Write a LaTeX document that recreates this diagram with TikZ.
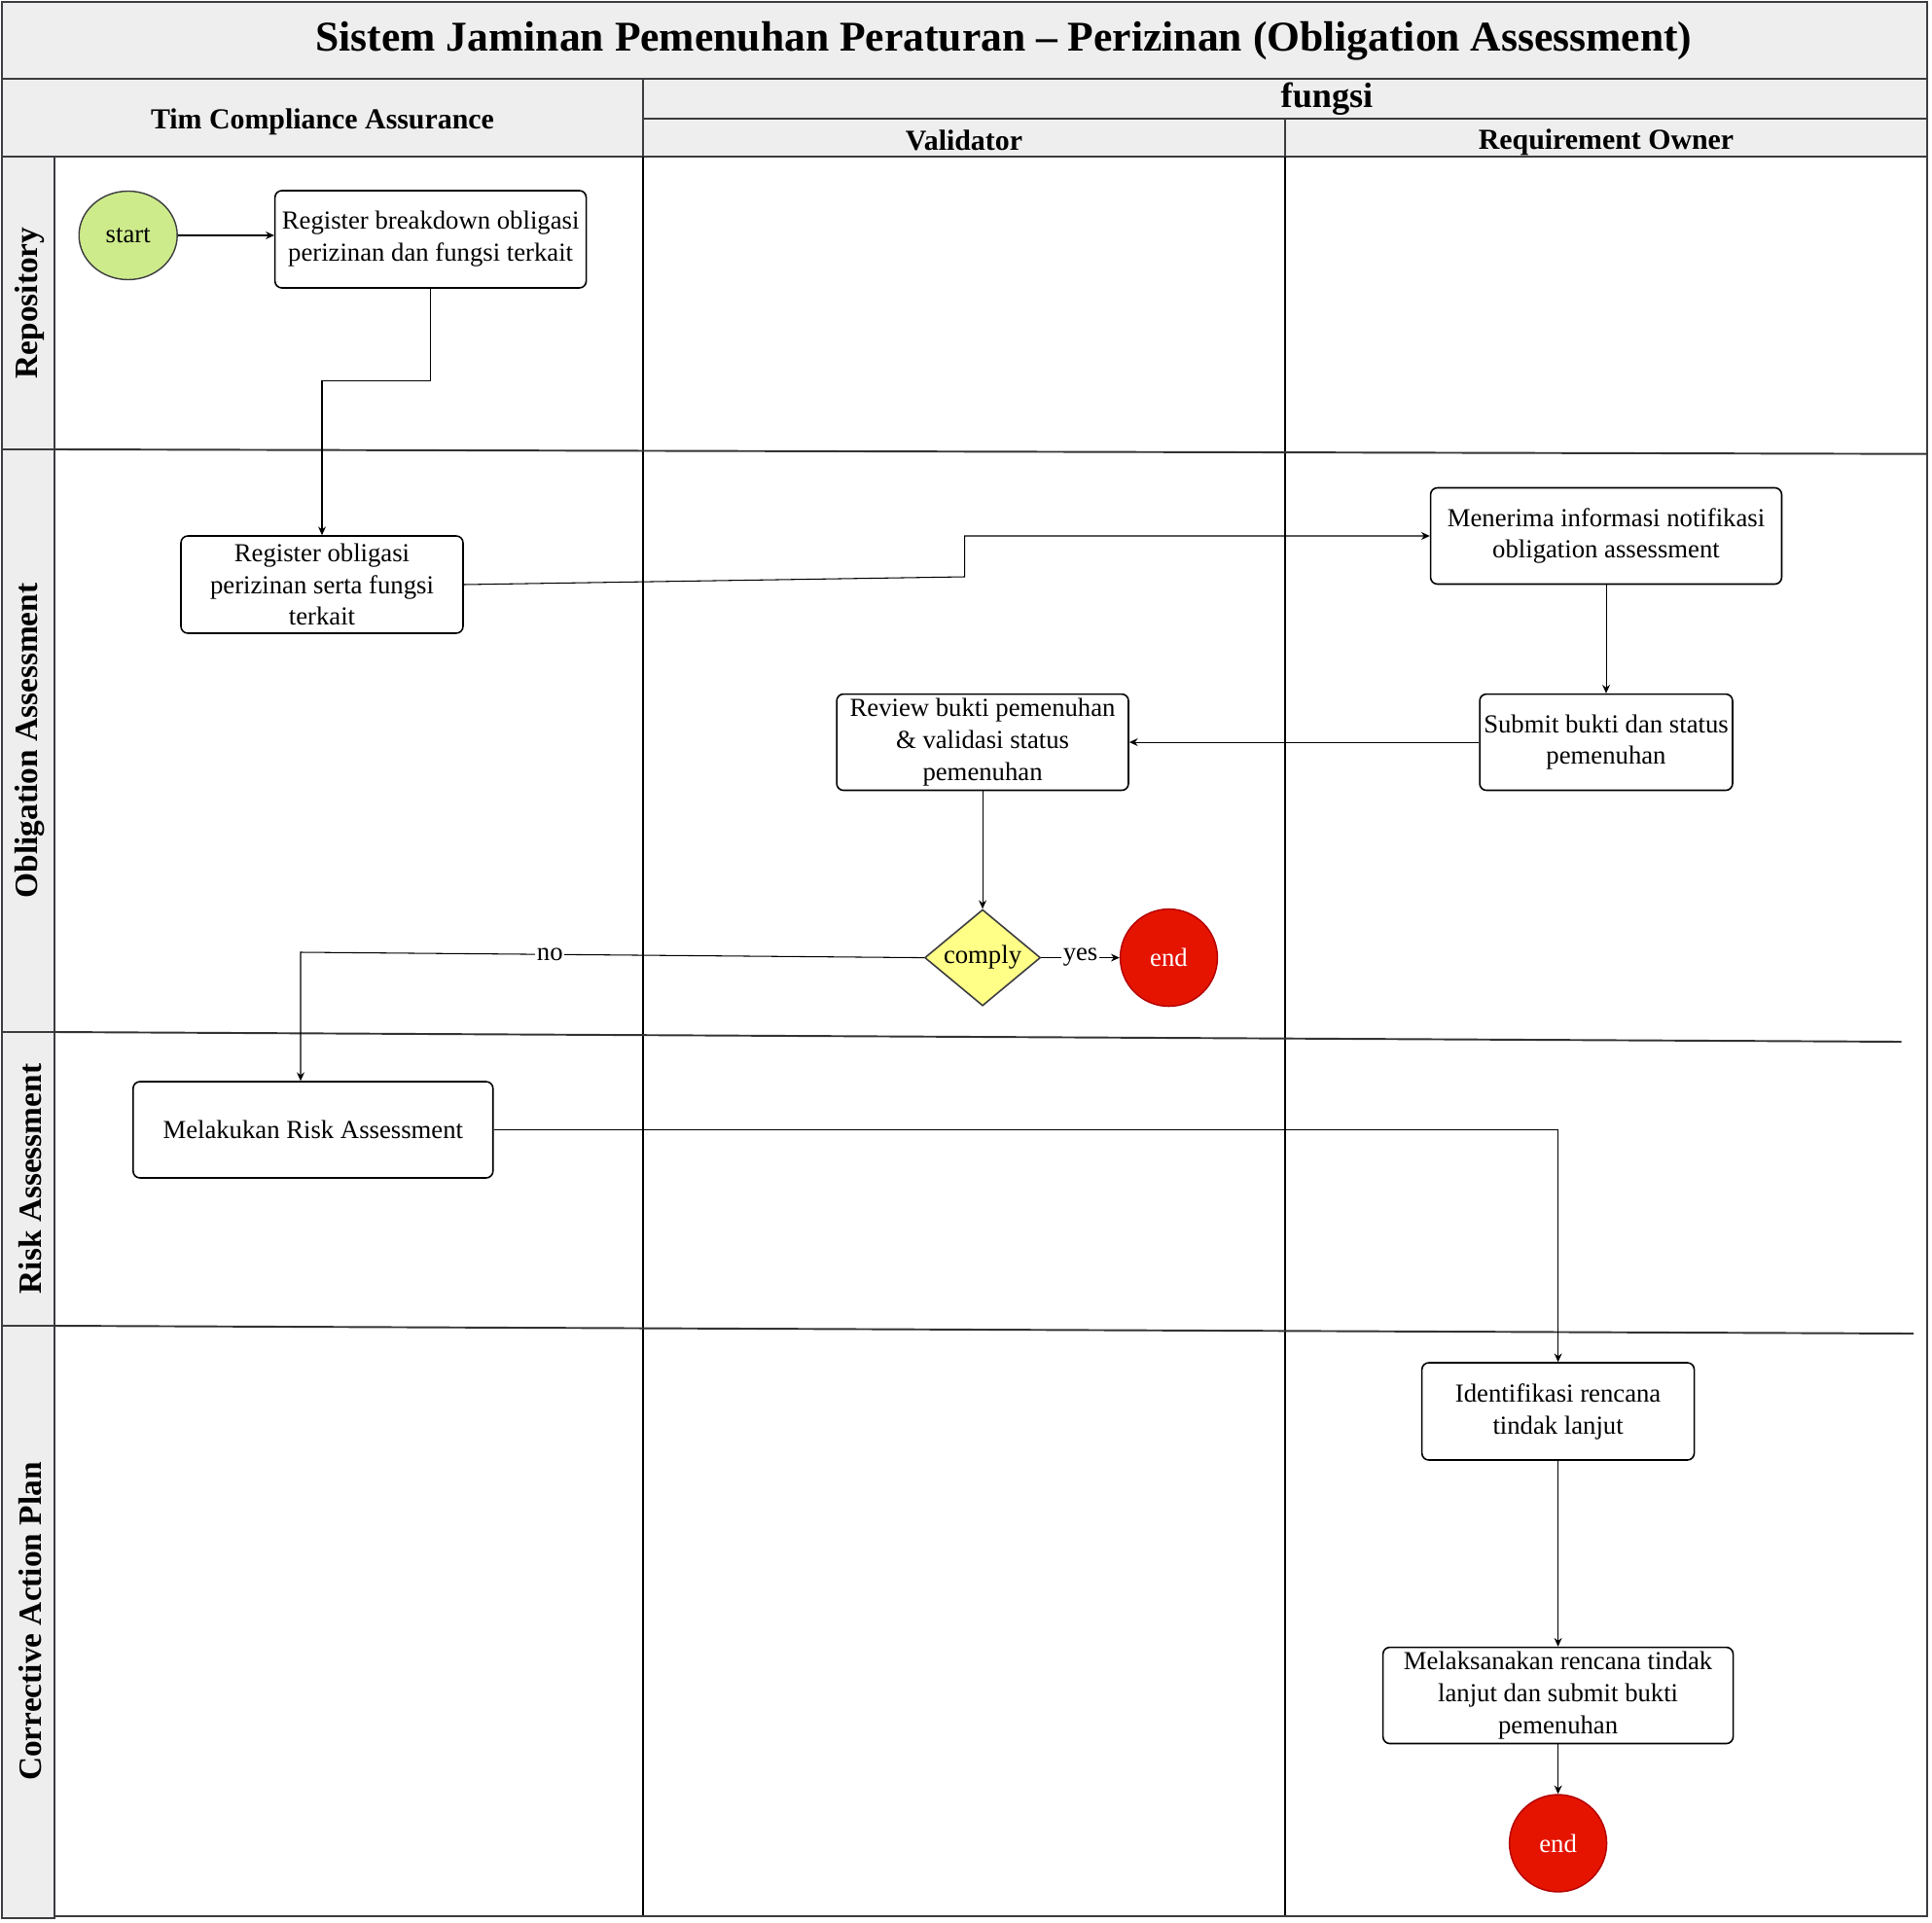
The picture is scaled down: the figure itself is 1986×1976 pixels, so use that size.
\documentclass[tikz,border=0pt]{standalone}
\usepackage{fontspec}
\setmainfont{Liberation Serif}
\usetikzlibrary{shapes.geometric, arrows.meta, positioning, calc}
\definecolor{laneGray}{RGB}{238,238,238}
\definecolor{frameGray}{RGB}{60,60,64}
\definecolor{startGreen}{RGB}{205,235,139}
\definecolor{complyYellow}{RGB}{255,255,136}
\definecolor{endRed}{RGB}{229,20,0}
\definecolor{endBorder}{RGB}{178,0,0}
\newcommand{\boxfont}{\fontsize{15.2}{18.7}\selectfont}

\begin{document}
\begin{tikzpicture}[
    x=0.02cm, y=-0.02cm,
    task/.style={rectangle, rounded corners=4pt, draw=black, line width=0.9pt, fill=white, align=center, inner sep=1pt, minimum height=2cm, font=\boxfont},
    terminal/.style={ellipse, draw=endBorder, line width=0.8pt, fill=endRed, text=white, minimum width=2cm, minimum height=2cm, inner sep=0pt, font=\boxfont},
    decision/.style={diamond, aspect=1.2, draw=frameGray, line width=0.9pt, fill=complyYellow, minimum width=2.38cm, minimum height=1.98cm, inner sep=0pt, font=\boxfont},
    header/.style={font=\bfseries\fontsize{17}{20}\selectfont},
    lanelabel/.style={rotate=90, font=\bfseries\fontsize{19}{22}\selectfont},
    cell/.style={draw=frameGray, line width=1.1pt, fill=laneGray},
    lanesep/.style={draw=black!80, line width=1.1pt},
    colsep/.style={draw=black, line width=0.6pt},
    arrow/.style={-{Stealth[length=5pt, width=4.5pt]}, line width=0.6pt},
    lbl/.style={fill=white, inner sep=1pt, font=\boxfont}
]
\useasboundingbox (0,0) rectangle (1986,1976);

% Header band
\path[cell] (2,2) rectangle (1981,81);
\path[cell] (2,81) rectangle (661,161);
\path[cell] (661,81) rectangle (1981,122);
\path[cell] (661,122) rectangle (1321,161);
\path[cell] (1321,122) rectangle (1981,161);

% Lane label column
\path[cell] (2,161) rectangle (56,462);
\path[cell] (2,462) rectangle (56,1061);
\path[cell] (2,1061) rectangle (56,1363);
\path[cell] (2,1363) rectangle (56,1972);

% Pool lines
\draw[colsep] (661,161) -- (661,1970);
\draw[colsep] (1321,161) -- (1321,1970);
\draw[draw=frameGray, line width=1.1pt] (56,1970) -- (1981,1970) -- (1981,161);
\draw[lanesep] (56,462) -- (1981,466.7);
\draw[lanesep] (56,1061) -- (1954.7,1071);
\draw[lanesep] (56,1363) -- (1967,1371);

% Titles
\node[font=\bfseries\fontsize{24.8}{28}\selectfont] (title) at (1032,42) {Sistem Jaminan Pemenuhan Peraturan – Perizinan (Obligation Assessment)};
\node[header] (hdTim) at (331.5,125) {Tim Compliance Assurance};
\node[font=\bfseries\fontsize{20.6}{24}\selectfont] (hdFungsi) at (1364,102) {fungsi};
\node[header] (hdValidator) at (991,144) {Validator};
\node[header] (hdOwner) at (1651,146) {Requirement Owner};

\node[lanelabel] (lnRepo) at (31,311.5) {Repository};
\node[lanelabel] (lnObligasi) at (31,761.5) {Obligation Assessment};
\node[lanelabel] (lnRisk) at (31,1212) {Risk Assessment};
\node[lanelabel] (lnCorrective) at (31,1667) {Corrective Action Plan};

% Repository
\node[terminal, fill=startGreen, draw=frameGray, text=black, minimum width=2.02cm, minimum height=1.82cm] (start) at (131.7,242) {start};
\node[task, minimum width=6.4cm, right=1.98cm of start, yshift=-0.08cm] (regBreakdown) {Register breakdown obligasi\\perizinan dan fungsi terkait};

% Obligation Assessment
\node[task, minimum width=5.8cm] (regObligasi) at (331,601) {Register obligasi\\perizinan serta fungsi\\terkait};
\node[task, minimum width=7.22cm, minimum height=1.98cm] (terimaNotif) at (1651,551) {Menerima informasi notifikasi\\obligation assessment};
\node[task, minimum width=5.2cm, minimum height=1.98cm, below=2.23cm of terimaNotif] (submitBukti) {Submit bukti dan status\\pemenuhan};
\node[task, minimum width=6cm, minimum height=1.98cm, left=7.19cm of submitBukti] (reviewBukti) {Review bukti pemenuhan\\\& validasi status\\pemenuhan};
\node[decision, below=2.42cm of reviewBukti] (comply) {comply};
\node[terminal, right=1.61cm of comply] (endA) {end};

% Risk Assessment
\node[task, minimum width=7.4cm, minimum height=1.98cm] (riskAssess) at (321.8,1161.5) {Melakukan Risk Assessment};

% Corrective Action Plan
\node[task, minimum width=5.6cm] (identRencana) at (1601.6,1451) {Identifikasi rencana\\tindak lanjut};
\node[task, minimum width=7.2cm, minimum height=1.98cm, below=3.82cm of identRencana] (laksanaRencana) {Melaksanakan rencana tindak\\lanjut dan submit bukti\\pemenuhan};
\node[terminal, below=1.02cm of laksanaRencana] (endB) {end};

% Arrows
\coordinate (stepA) at (991.7,593);
\coordinate (noTurn) at (309,979);

\draw[arrow] (start) -- (regBreakdown.west |- start);
\draw[arrow] (regBreakdown.south) -- ++(0,95) -| (regObligasi.north);
\draw[arrow] (regObligasi.east) -- (stepA) |- (terimaNotif.west);
\draw[arrow] (terimaNotif) -- (submitBukti);
\draw[arrow] (submitBukti) -- (reviewBukti);
\draw[arrow] (reviewBukti) -- (comply);
\draw[arrow] (comply) -- node[lbl] {yes} (endA);
\draw[arrow] (comply.west) -- node[lbl, pos=0.6] {no} (noTurn) -- (noTurn |- riskAssess.north);
\draw[arrow] (riskAssess.east) -| (identRencana.north);
\draw[arrow] (identRencana) -- (laksanaRencana);
\draw[arrow] (laksanaRencana) -- (endB);

\end{tikzpicture}
\end{document}
